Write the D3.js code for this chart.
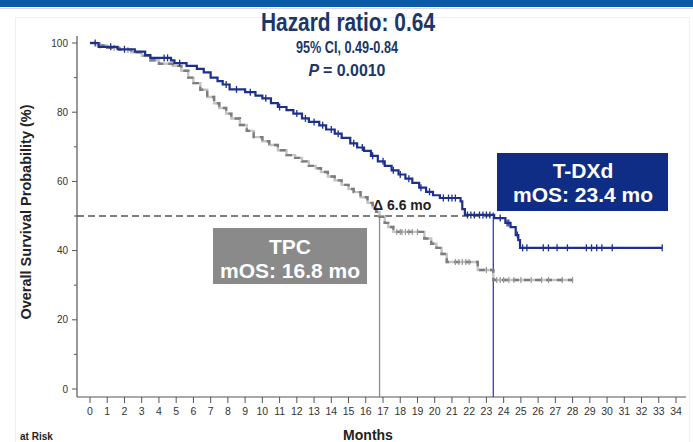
<!DOCTYPE html>
<html><head><meta charset="utf-8">
<script src="https://cdn.jsdelivr.net/npm/d3@7/dist/d3.min.js"></script>
<style>
html,body{margin:0;padding:0;background:#fff;}
svg{display:block;font-family:"Liberation Sans",Arial,sans-serif;}
</style></head>
<body><svg id="c" width="693" height="442"></svg>
<script>
// ---------------- data ----------------
const xTicks = d3.range(0, 35);               // months 0..34
const yMajorTicks = [0, 20, 40, 60, 80, 100];
const yMinorTicks = [10, 30, 50, 70, 90];

// T-DXd Kaplan-Meier steps (months, survival %)
const tdxdTime = [0,0.5,1.6,2.6,3.2,3.5,4.7,4.9,5.6,6.2,6.6,7.0,7.4,7.7,8.1,9.0,9.6,10.0,10.5,10.9,11.4,11.8,12.3,12.7,13.3,13.7,14.2,14.6,15.1,15.5,15.9,16.3,16.7,17.1,17.5,17.9,18.3,18.7,19.1,19.5,19.9,20.3,21.5,21.6,21.75,23.45,24.1,24.4,24.7,24.85,24.95,33.2];
const tdxdSurv = [100,98.9,98.2,97.5,96.5,95.7,95.0,94.2,93.4,92.5,91.5,90.0,89.0,88.0,86.6,85.8,84.8,84.0,82.6,81.5,80.6,79.6,78.2,77.2,76.2,75.0,73.8,72.6,71.0,69.8,68.8,67.4,65.8,64.5,63.2,62.0,60.8,59.6,58.2,57.0,56.0,55.2,54.2,52.0,50.3,49.4,48.0,46.8,44.5,43.0,40.8,40.8];
const tdxdCensor = [0.3,1.2,2.0,4.3,4.5,5.2,7.9,8.5,9.3,10.2,11.0,12.0,12.5,13.0,13.5,14.0,14.4,15.3,15.8,16.4,17.0,17.6,18.0,18.5,19.2,19.7,20.5,20.8,21.0,21.2,21.9,22.1,22.3,22.6,22.8,23.0,23.2,23.8,24.2,24.3,24.8,25.1,25.35,26.3,26.6,27.1,27.7,28.8,29.1,29.4,29.7,30.3,33.2];

// TPC Kaplan-Meier steps
const tpcTime = [0,0.4,1.0,1.7,2.4,3.0,3.5,4.0,4.8,5.3,5.7,6.0,6.4,6.8,7.2,7.5,7.9,8.2,8.7,9.1,9.5,10.0,10.4,10.9,11.4,11.9,12.3,12.7,13.1,13.4,13.8,14.2,14.6,15.0,15.3,15.7,16.1,16.4,16.6,16.8,17.1,17.3,17.6,19.4,19.8,20.1,20.4,20.7,22.5,23.4,28.0];
const tpcSurv = [100,99.3,98.6,98.0,97.3,96.3,95.0,94.0,93.4,92.0,90.0,88.4,86.5,84.4,82.6,81.2,79.6,78.2,76.3,74.6,72.8,71.6,70.5,69.0,67.6,66.8,65.8,64.5,63.8,62.7,61.4,60.3,59.0,57.8,56.9,55.4,53.8,52.5,51.2,49.8,48.0,46.8,45.4,43.5,42.0,40.8,39.0,36.7,34.4,31.5,31.5];
const tpcCensor = [0.6,1.4,2.2,17.8,18.0,18.1,18.3,18.5,18.7,19.0,21.2,21.4,21.6,21.8,22.0,23.0,23.6,23.8,24.0,24.3,24.6,25.0,25.6,26.2,26.6,27.4,28.0];

const medianTPC = 16.8, medianTDXd = 23.4;
const titleLines = ["Hazard ratio: 0.64", "95% CI, 0.49-0.84", "= 0.0010"];

// ---------------- drawing ----------------
const svg = d3.select("#c");
const x = d3.scaleLinear().domain([0, 34]).range([90, 676]);
const y = d3.scaleLinear().domain([0, 100]).range([389, 43]);

// header bar & frame
svg.append("rect").attr("x",0).attr("y",0).attr("width",693).attr("height",7).attr("fill","#0b5aa9");
svg.append("line").attr("x1",0).attr("x2",693).attr("y1",8.5).attr("y2",8.5).attr("stroke","#d8d8d8");
svg.append("rect").attr("x",15.5).attr("y",17.5).attr("width",674).attr("height",430).attr("fill","none").attr("stroke","#efefef");

// axes lines
const axisCol = "#555";
svg.append("line").attr("x1",77).attr("x2",77).attr("y1",36).attr("y2",397).attr("stroke",axisCol).attr("stroke-width",1.2);
svg.append("line").attr("x1",77).attr("x2",686).attr("y1",397).attr("y2",397).attr("stroke",axisCol).attr("stroke-width",1.2);

// x ticks
const gx = svg.append("g");
xTicks.forEach(t => {
  gx.append("line").attr("x1",x(t)).attr("x2",x(t)).attr("y1",397).attr("y2",403).attr("stroke",axisCol);
  gx.append("text").attr("x",x(t)).attr("y",415).attr("text-anchor","middle")
    .attr("font-size",10.5).attr("fill","#333").text(t);
});
// y ticks
const gy = svg.append("g");
yMajorTicks.forEach(v => {
  gy.append("line").attr("x1",72).attr("x2",77).attr("y1",y(v)).attr("y2",y(v)).attr("stroke",axisCol);
  gy.append("text").attr("x",68).attr("y",y(v)+3.5).attr("text-anchor","end")
    .attr("font-size",10).attr("fill","#333").text(v);
});
yMinorTicks.forEach(v => {
  gy.append("line").attr("x1",74).attr("x2",77).attr("y1",y(v)).attr("y2",y(v)).attr("stroke",axisCol);
});

// axis titles
svg.append("text").attr("transform","translate(31,212) rotate(-90)").attr("text-anchor","middle")
  .attr("font-size",14.5).attr("font-weight","bold").attr("fill","#222").text("Overall Survival Probability (%)");
svg.append("text").attr("x",368).attr("y",440).attr("text-anchor","middle")
  .attr("font-size",14).attr("font-weight","bold").attr("fill","#222").text("Months");
svg.append("text").attr("x",20).attr("y",440).attr("font-size",10).attr("font-weight","bold").attr("fill","#222").text("at Risk");

// reference lines
svg.append("line").attr("x1",77).attr("x2",x(medianTDXd)).attr("y1",y(50)).attr("y2",y(50))
  .attr("stroke","#555").attr("stroke-width",1.3).attr("stroke-dasharray","7,4");
svg.append("line").attr("x1",x(medianTPC)).attr("x2",x(medianTPC)).attr("y1",y(50)).attr("y2",397)
  .attr("stroke","#8c8c8c").attr("stroke-width",1.3);
svg.append("line").attr("x1",x(medianTDXd)).attr("x2",x(medianTDXd)).attr("y1",y(51)).attr("y2",397)
  .attr("stroke","#2b40d0").attr("stroke-width",1.3);

// curves
const stepLine = d3.line().x(d=>x(d[0])).y(d=>y(d[1])).curve(d3.curveStepAfter);
const tpcData = tpcTime.map((t,i)=>[t,tpcSurv[i]]);
const tdxdData = tdxdTime.map((t,i)=>[t,tdxdSurv[i]]);
function survAt(times, surv, t){ let v = surv[0]; for(let i=0;i<times.length;i++){ if(times[i]<=t) v=surv[i]; } return v; }

svg.append("path").attr("d",stepLine(tpcData)).attr("fill","none").attr("stroke","#c4c4c4").attr("stroke-width",2.4);
svg.append("path").attr("d",stepLine(tpcData)).attr("fill","none").attr("stroke","#7d7d7d").attr("stroke-width",2.4).attr("stroke-dasharray","6,5");
tpcCensor.forEach(t=>{
  const v = survAt(tpcTime,tpcSurv,t);
  svg.append("line").attr("x1",x(t)).attr("x2",x(t)).attr("y1",y(v)-3).attr("y2",y(v)+3).attr("stroke","#999").attr("stroke-width",1.2);
});

svg.append("path").attr("d",stepLine(tdxdData)).attr("fill","none").attr("stroke","#1d2f8f").attr("stroke-width",2.2);
tdxdCensor.forEach(t=>{
  const v = survAt(tdxdTime,tdxdSurv,t);
  svg.append("line").attr("x1",x(t)).attr("x2",x(t)).attr("y1",y(v)-3.5).attr("y2",y(v)+3.5).attr("stroke","#1d2f8f").attr("stroke-width",1.3);
});

// annotation boxes
svg.append("rect").attr("x",213).attr("y",228).attr("width",154).attr("height",56).attr("fill","#8a8a8a");
svg.append("text").attr("x",290).attr("y",254).attr("text-anchor","middle").attr("fill","#fff").attr("font-size",21).attr("font-weight","bold").text("TPC");
svg.append("text").attr("x",290).attr("y",278).attr("text-anchor","middle").attr("fill","#fff").attr("font-size",21).attr("font-weight","bold").text("mOS: 16.8 mo");

svg.append("rect").attr("x",497).attr("y",153).attr("width",171).attr("height",58).attr("fill","#0f2d84");
svg.append("text").attr("x",583).attr("y",178).attr("text-anchor","middle").attr("fill","#fff").attr("font-size",21).attr("font-weight","bold").text("T-DXd");
svg.append("text").attr("x",583).attr("y",202).attr("text-anchor","middle").attr("fill","#fff").attr("font-size",21).attr("font-weight","bold").text("mOS: 23.4 mo");

svg.append("text").attr("x",373).attr("y",210).attr("font-size",14).attr("font-weight","bold").attr("fill","#222").text("Δ 6.6 mo");

// title block
const navy = "#1b3667";
svg.append("text").attr("x",348).attr("y",31).attr("text-anchor","middle").attr("font-size",25).attr("font-weight","bold")
  .attr("fill",navy).attr("textLength",174).attr("lengthAdjust","spacingAndGlyphs").text(titleLines[0]);
svg.append("text").attr("x",347).attr("y",53).attr("text-anchor","middle").attr("font-size",17).attr("font-weight","bold")
  .attr("fill",navy).attr("textLength",102).attr("lengthAdjust","spacingAndGlyphs").text(titleLines[1]);
const pt = svg.append("text").attr("x",347).attr("y",76).attr("text-anchor","middle").attr("font-size",17).attr("font-weight","bold").attr("fill",navy)
  .attr("textLength",77).attr("lengthAdjust","spacingAndGlyphs");
pt.append("tspan").attr("font-style","italic").text("P ");
pt.append("tspan").text(titleLines[2]);
</script></body></html>
